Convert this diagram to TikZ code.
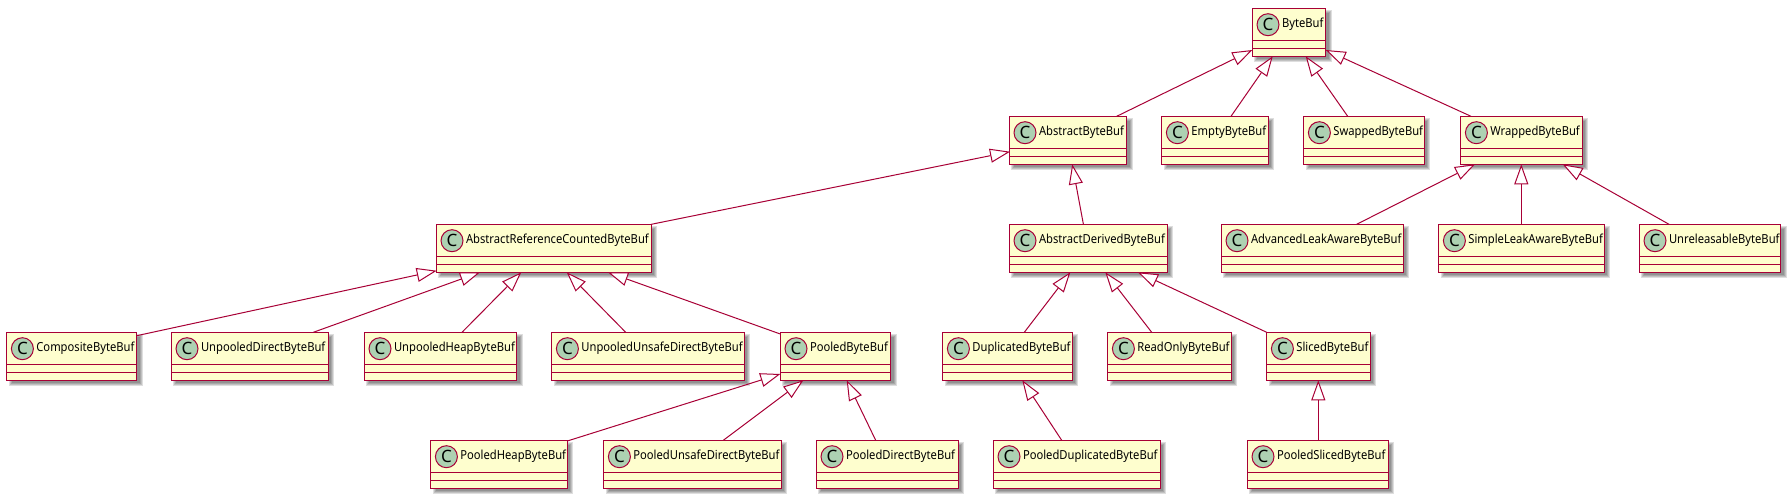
\documentclass[tikz,border=0pt]{standalone}
\usepackage{fontspec}
\setmainfont{Noto Sans}
\newfontfamily\umlfont[FakeStretch=0.9]{Noto Sans}
\usetikzlibrary{arrows.meta}
\definecolor{umlline}{HTML}{A80036}
\definecolor{umlfill}{HTML}{FEFECE}
\definecolor{umlcirc}{HTML}{ADD1B2}
\tikzset{
  classbox/.style={draw=umlline,fill=umlfill,line width=1.5pt,rectangle,inner sep=0pt,outer sep=0pt,minimum height=48pt},
  classsep/.style={draw=umlline,line width=1.5pt},
  spot/.style={circle,draw=umlline,fill=umlcirc,line width=1pt,inner sep=0pt,outer sep=0pt,minimum size=22pt,font=\fontsize{17}{17}\selectfont,text=black},
  classname/.style={anchor=west,inner sep=0pt,outer sep=0pt,font=\umlfont\fontsize{12.45}{15}\selectfont,text=black},
  shadowlayer/.style={fill=black,opacity=.13,draw=none},
  inherits/.style={draw=umlline,line width=1pt,-{Triangle[fill=white,length=20pt,width=14pt,line width=1pt]}},
}
\newcommand{\cls}[5]{%
  \foreach \g in {2,1,0,-1}{%
    \fill[shadowlayer] ({#2+4-\g},{#4+4-\g}) rectangle ({#3+4+\g},{#4+52+\g});}
  \node[classbox,anchor=north west,minimum width={(#3-#2)*1pt}] (#1) at (#2,#4) {};
  \draw[classsep] ([yshift=-32pt]#1.north west) -- ([yshift=-32pt]#1.north east);
  \draw[classsep] ([yshift=-40pt]#1.north west) -- ([yshift=-40pt]#1.north east);
  \node[spot] (#1c) at ([xshift=15.7pt,yshift=-16.4pt]#1.north west) {C};
  \node[classname] (#1t) at ([xshift=29.7pt,yshift=-16pt]#1.north west) {#5};
}
\newcommand{\gen}[6]{%
  \draw[inherits] ([xshift=#2pt,yshift=-#3pt]#1.north west) -- ([xshift=#5pt,yshift=-#6pt]#4.north west);
}
\begin{document}
\begin{tikzpicture}[x=1pt,y=-1pt]
\useasboundingbox (0,0) rectangle (1791,499);
\fill[white] (0,0) rectangle (1791,499);
\def\ra{8.3}\def\rb{116.3}\def\rc{224.3}\def\rd{332.3}\def\re{440.3}
\cls{bb}{1252.3}{1325.7}{\ra}{ByteBuf}
\cls{abb}{1009.3}{1126.7}{\rb}{AbstractByteBuf}
\cls{ebb}{1161.7}{1268.3}{\rb}{EmptyByteBuf}
\cls{sbb}{1303.7}{1424.3}{\rb}{SwappedByteBuf}
\cls{wbb}{1460.7}{1582.3}{\rb}{WrappedByteBuf}
\cls{arc}{436.3}{651.3}{\rc}{AbstractReferenceCountedByteBuf}
\cls{adb}{1009.3}{1167.3}{\rc}{AbstractDerivedByteBuf}
\cls{alb}{1221.3}{1403.3}{\rc}{AdvancedLeakAwareByteBuf}
\cls{slb}{1438.7}{1604.3}{\rc}{SimpleLeakAwareByteBuf}
\cls{ubb}{1639.3}{1780.7}{\rc}{UnreleasableByteBuf}
\cls{cbb}{6.7}{136.7}{\rd}{CompositeByteBuf}
\cls{udb}{171.3}{328.3}{\rd}{UnpooledDirectByteBuf}
\cls{uhb}{364.3}{516.7}{\rd}{UnpooledHeapByteBuf}
\cls{uud}{551.7}{744.3}{\rd}{UnpooledUnsafeDirectByteBuf}
\cls{pbb}{780.3}{890.7}{\rd}{PooledByteBuf}
\cls{dbb}{942.7}{1072.3}{\rd}{DuplicatedByteBuf}
\cls{rob}{1107.7}{1231.3}{\rd}{ReadOnlyByteBuf}
\cls{scb}{1266.7}{1370.3}{\rd}{SlicedByteBuf}
\cls{phb}{430.7}{567.3}{\re}{PooledHeapByteBuf}
\cls{pud}{603.7}{781.3}{\re}{PooledUnsafeDirectByteBuf}
\cls{pdb}{816.3}{958.3}{\re}{PooledDirectByteBuf}
\cls{pdu}{993.3}{1160.3}{\re}{PooledDuplicatedByteBuf}
\cls{psb}{1247.3}{1388.3}{\re}{PooledSlicedByteBuf}
\gen{abb}{107.4}{0}{bb}{0}{41.7}
\gen{ebb}{69.3}{0}{bb}{20.4}{48}
\gen{sbb}{44}{0}{bb}{53.4}{48}
\gen{wbb}{10.3}{0}{bb}{73.4}{41.7}
\gen{arc}{215}{0}{abb}{0.7}{35.4}
\gen{adb}{74.1}{0}{abb}{62.9}{48}
\gen{alb}{135.4}{0}{wbb}{14.3}{48}
\gen{slb}{82.6}{0}{wbb}{60.6}{48}
\gen{ubb}{29.7}{0}{wbb}{102}{48}
\gen{cbb}{130}{3.4}{arc}{0.4}{46.4}
\gen{udb}{142}{0}{arc}{43.7}{48}
\gen{uhb}{97.7}{0}{arc}{85}{48}
\gen{uud}{74}{0}{arc}{130.4}{48}
\gen{pbb}{0}{1.7}{arc}{171.7}{48}
\gen{dbb}{81.6}{0}{adb}{61}{48}
\gen{rob}{44}{0}{adb}{96}{48}
\gen{scb}{0}{0}{adb}{128.7}{48}
\gen{phb}{136.6}{0.7}{pbb}{0}{41.7}
\gen{pud}{119.6}{0}{pbb}{23}{48}
\gen{pdb}{59.4}{0}{pbb}{66.4}{48}
\gen{pdu}{68.4}{0}{dbb}{79.6}{48}
\gen{psb}{71}{0}{scb}{51.6}{48}
\end{tikzpicture}
\end{document}
